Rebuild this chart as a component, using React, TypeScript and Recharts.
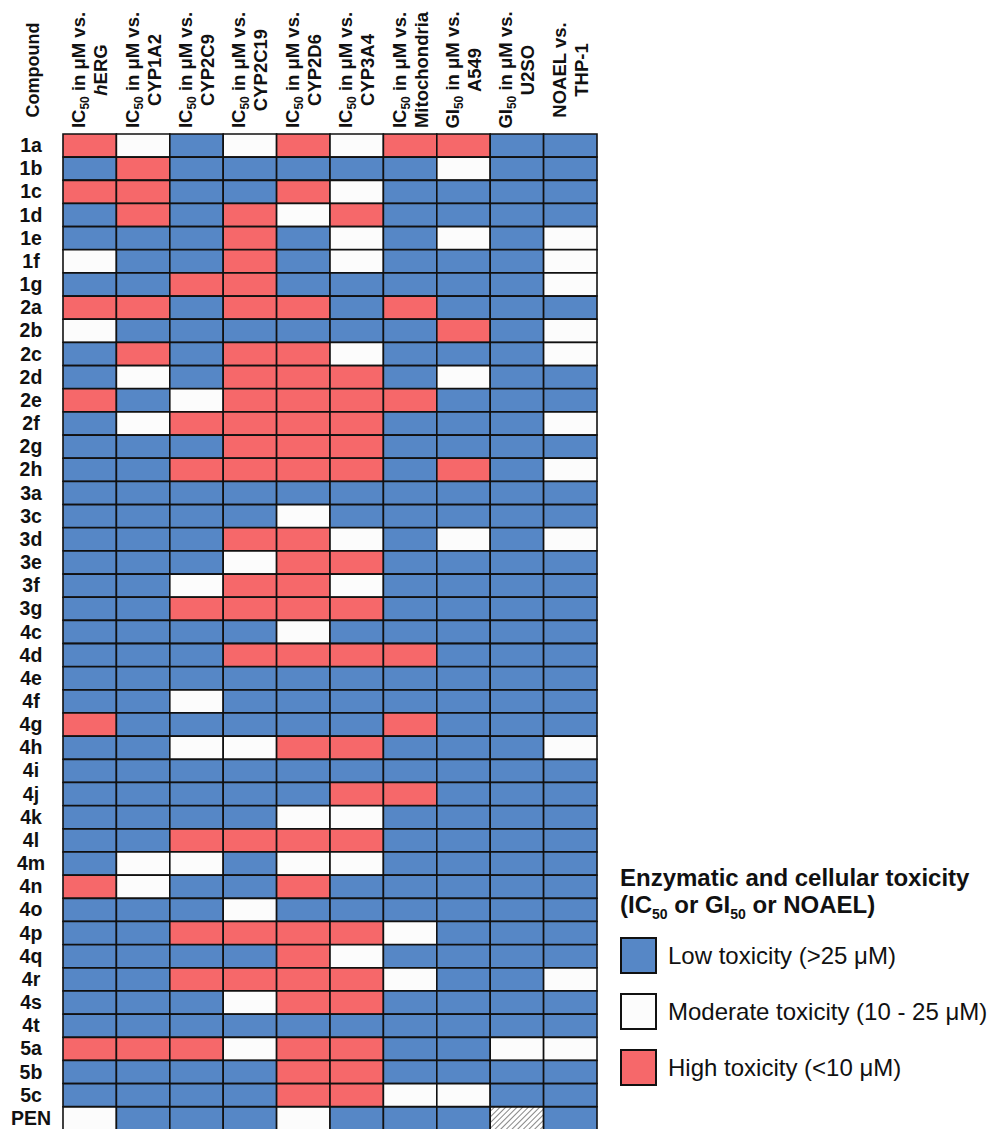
import { BarChart, Bar, Cell, XAxis, YAxis, Legend } from 'recharts';

const FONT = '"Liberation Sans", Arial, Helvetica, sans-serif';

const compounds = [
  '1a', '1b', '1c', '1d', '1e', '1f', '1g',
  '2a', '2b', '2c', '2d', '2e', '2f', '2g', '2h',
  '3a', '3c', '3d', '3e', '3f', '3g',
  '4c', '4d', '4e', '4f', '4g', '4h', '4i', '4j', '4k', '4l', '4m', '4n', '4o', '4p', '4q', '4r', '4s', '4t',
  '5a', '5b', '5c', 'PEN',
];

// header: measure (IC / GI get subscript 50) and target
const measures = ['IC', 'IC', 'IC', 'IC', 'IC', 'IC', 'IC', 'GI', 'GI', 'NOAEL'];
const targets = ['hERG', 'CYP1A2', 'CYP2C9', 'CYP2C19', 'CYP2D6', 'CYP3A4', 'Mitochondria', 'A549', 'U2SO', 'THP-1'];

// L = low, M = moderate, H = high, N = not tested (hatched); one letter per assay column
const toxicity = [
  'HMLMHMHHLL', // 1a
  'LHLLLLLMLL', // 1b
  'HHLLHMLLLL', // 1c
  'LHLHMHLLLL', // 1d
  'LLLHLMLMLM', // 1e
  'MLLHLMLLLM', // 1f
  'LLHHLLLLLM', // 1g
  'HHLHHLHLLL', // 2a
  'MLLLLLLHLM', // 2b
  'LHLHHMLLLM', // 2c
  'LMLHHHLMLL', // 2d
  'HLMHHHHLLL', // 2e
  'LMHHHHLLLM', // 2f
  'LLLHHHLLLL', // 2g
  'LLHHHHLHLM', // 2h
  'LLLLLLLLLL', // 3a
  'LLLLMLLLLL', // 3c
  'LLLHHMLMLM', // 3d
  'LLLMHHLLLL', // 3e
  'LLMHHMLLLL', // 3f
  'LLHHHHLLLL', // 3g
  'LLLLMLLLLL', // 4c
  'LLLHHHHLLL', // 4d
  'LLLLLLLLLL', // 4e
  'LLMLLLLLLL', // 4f
  'HLLLLLHLLL', // 4g
  'LLMMHHLLLM', // 4h
  'LLLLLLLLLL', // 4i
  'LLLLLHHLLL', // 4j
  'LLLLMMLLLL', // 4k
  'LLHHHHLLLL', // 4l
  'LMMLMMLLLL', // 4m
  'HMLLHLLLLL', // 4n
  'LLLMLLLLLL', // 4o
  'LLHHHHMLLL', // 4p
  'LLLLHMLLLL', // 4q
  'LLHHHHMLLM', // 4r
  'LLLMHHLLLL', // 4s
  'LLLLLLLLLL', // 4t
  'HHHMHHLLMM', // 5a
  'LLLLHHLLLL', // 5b
  'LLLLHHMMLL', // 5c
  'MLLLMLLLNL', // PEN
];

const levels = [
  { code: 'L', label: 'Low toxicity (>25 μM)', color: '#5687c6' },
  { code: 'M', label: 'Moderate toxicity (10 - 25 μM)', color: '#fcfcfc' },
  { code: 'H', label: 'High toxicity (<10 μM)', color: '#f6686a' },
];

const fillFor = (code: string) => {
  if (code === 'N') return 'url(#hatch)';
  return levels.find(l => l.code === code)?.color ?? '#fff';
};

const rows = compounds.map(c => {
  const row: Record<string, string | number> = { compound: c };
  targets.forEach((_, i) => { row[`c${i}`] = 1; });
  return row;
});

const HeaderTick = (props: any) => {
  const { x, index } = props;
  const m = measures[index];
  return (
    <g transform={`translate(${x},70) rotate(-90)`}>
      <text textAnchor="middle" fontFamily={FONT} fontWeight={700} fontSize={18.5} fill="#111">
        <tspan x={0} y={-4.5}>
          {m === 'NOAEL' ? (
            'NOAEL vs.'
          ) : (
            <>
              {m}
              <tspan fontSize={12} dy={4}>50</tspan>
              <tspan dy={-4}> in μM vs.</tspan>
            </>
          )}
        </tspan>
        <tspan x={0} y={17.5}>
          {targets[index] === 'hERG' ? (
            <>
              <tspan fontStyle="italic">h</tspan>ERG
            </>
          ) : (
            targets[index]
          )}
        </tspan>
      </text>
    </g>
  );
};

const RowTick = (props: any) => {
  const { y, payload } = props;
  return (
    <text x={31} y={y} dy={6.5} textAnchor="middle" fontFamily={FONT} fontWeight={700} fontSize={19.5} fill="#111">
      {payload.value}
    </text>
  );
};

const CompoundLabel = () => (
  <text
    transform="translate(32,70) rotate(-90)"
    y={6.5}
    textAnchor="middle"
    fontFamily={FONT}
    fontWeight={700}
    fontSize={18}
    fill="#111"
  >
    Compound
  </text>
);

const sub = { fontSize: 14, position: 'relative' as const, top: 6, lineHeight: 0 };

const ToxLegend = () => (
  <div style={{ fontFamily: FONT, color: '#111' }}>
    <div style={{ fontWeight: 700, fontSize: 24, lineHeight: '27px', whiteSpace: 'nowrap' }}>
      <div>Enzymatic and cellular toxicity</div>
      <div>
        (IC<span style={sub}>50</span> or GI<span style={sub}>50</span> or NOAEL)
      </div>
    </div>
    <div style={{ marginTop: 19 }}>
      {levels.map(l => (
        <div key={l.code} style={{ display: 'flex', alignItems: 'center', height: 37, marginBottom: 19 }}>
          <div
            style={{
              width: 33,
              height: 33,
              background: l.color,
              border: '2px solid #111',
              marginRight: 11,
              flex: 'none',
            }}
          />
          <span style={{ fontSize: 24, whiteSpace: 'nowrap' }}>{l.label}</span>
        </div>
      ))}
    </div>
  </div>
);

export default function App() {
  return (
    <div style={{ position: 'fixed', left: 0, top: 0, width: 991, height: 1129, overflow: 'hidden', background: '#fff' }}>
      <BarChart
        width={991}
        height={1130}
        data={rows}
        layout="vertical"
        barCategoryGap={0}
        barGap={0}
        margin={{ top: 0, right: 394, bottom: 0, left: 0 }}
      >
        <defs>
          <pattern id="hatch" patternUnits="userSpaceOnUse" width={4} height={4} patternTransform="rotate(45)">
            <rect width={4} height={4} fill="#fff" />
            <line x1={0} y1={0} x2={0} y2={4} stroke="#555" strokeWidth={1.4} />
          </pattern>
        </defs>
        <XAxis
          type="number"
          orientation="top"
          domain={[0, targets.length]}
          ticks={targets.map((_, i) => i + 0.5)}
          interval={0}
          height={134}
          tick={<HeaderTick />}
          tickLine={false}
          axisLine={false}
        />
        <YAxis
          type="category"
          dataKey="compound"
          width={63}
          interval={0}
          tick={<RowTick />}
          tickLine={false}
          axisLine={false}
          label={<CompoundLabel />}
        />
        {targets.map((t, i) => (
          <Bar key={t} dataKey={`c${i}`} stackId="grid" isAnimationActive={false}>
            {rows.map((r, j) => (
              <Cell key={String(r.compound)} fill={fillFor(toxicity[j][i])} stroke="#111" strokeWidth={1.6} />
            ))}
          </Bar>
        ))}
        <Legend
          layout="vertical"
          align="center"
          verticalAlign="middle"
          content={() => <ToxLegend />}
          wrapperStyle={{ left: 620, top: 864, width: 371 }}
        />
      </BarChart>
    </div>
  );
}
